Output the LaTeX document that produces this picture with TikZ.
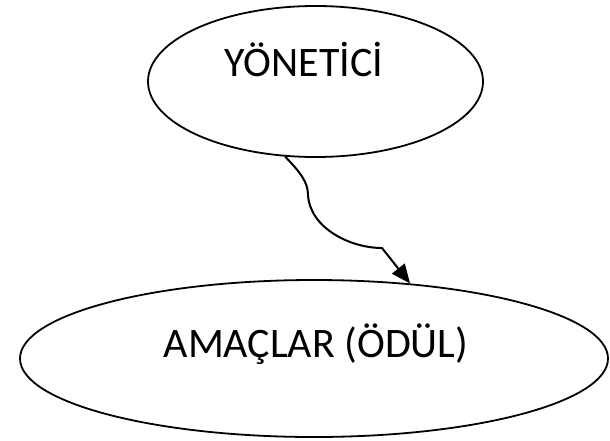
\documentclass[tikz,border=0pt]{standalone}
\usepackage{fontspec}
\setmainfont{Carlito}
\usetikzlibrary{shapes.geometric,arrows.meta}
\begin{document}
\begin{tikzpicture}[x=1pt,y=-1pt,
  oval/.style={draw,ellipse,line width=1.8pt,inner sep=0pt},
  lbl/.style={font=\fontsize{42}{48}\selectfont,inner sep=0pt,anchor=base},
  conn/.style={line width=2pt,-{Triangle[length=19pt,width=16pt]}}]
\useasboundingbox (0,0) rectangle (610,440);
\node[oval,minimum width=335pt,minimum height=151pt] (top) at (315.5,81.5) {};
\node[lbl] (toptext) at (304,76.7) {YÖNETİCİ};
\node[oval,minimum width=588pt,minimum height=157pt] (bot) at (314,358.5) {};
\node[lbl] (bottext) at (316,357) {AMAÇLAR (ÖDÜL)};
\draw[conn] (top.248) .. controls (300,172) and (308,182) .. (308,195)
  .. controls (310,228) and (350,248) .. (382,248) -- (bot.38);
\end{tikzpicture}
\end{document}
